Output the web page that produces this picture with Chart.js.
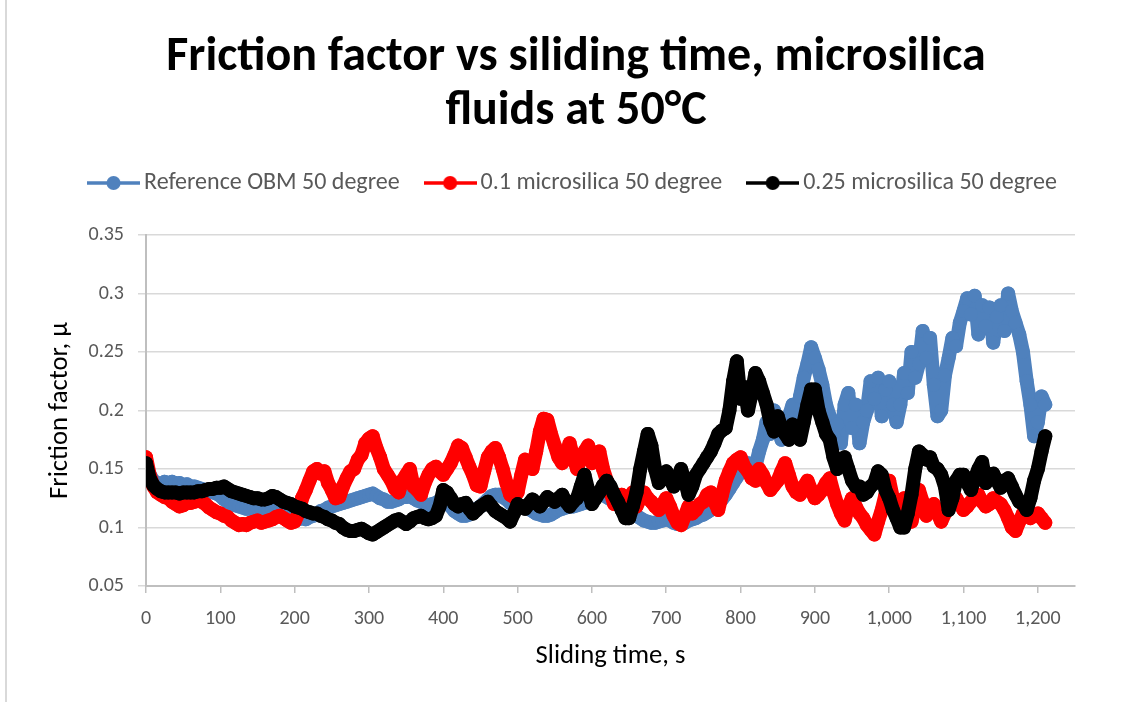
<!DOCTYPE html>
<html>
<head>
<meta charset="utf-8">
<script src="https://cdn.jsdelivr.net/npm/chart.js@4.4.1/dist/chart.umd.min.js"></script>
<style>
  html, body { margin: 0; padding: 0; background: #fff; }
  #wrap { width: 1126px; height: 702px; }
</style>
</head>
<body>
<div id="wrap"><canvas id="chart" width="1126" height="702"></canvas></div>
<script>
// sliding time in seconds, one reading every 5 s (one row = 100 s)
let times = [
  0, 5, 10, 15, 20, 25, 30, 35, 40, 45, 50, 55, 60, 65, 70, 75, 80, 85, 90, 95,
  100, 105, 110, 115, 120, 125, 130, 135, 140, 145, 150, 155, 160, 165, 170, 175, 180, 185, 190, 195,
  200, 205, 210, 215, 220, 225, 230, 235, 240, 245, 250, 255, 260, 265, 270, 275, 280, 285, 290, 295,
  300, 305, 310, 315, 320, 325, 330, 335, 340, 345, 350, 355, 360, 365, 370, 375, 380, 385, 390, 395,
  400, 405, 410, 415, 420, 425, 430, 435, 440, 445, 450, 455, 460, 465, 470, 475, 480, 485, 490, 495,
  500, 505, 510, 515, 520, 525, 530, 535, 540, 545, 550, 555, 560, 565, 570, 575, 580, 585, 590, 595,
  600, 605, 610, 615, 620, 625, 630, 635, 640, 645, 650, 655, 660, 665, 670, 675, 680, 685, 690, 695,
  700, 705, 710, 715, 720, 725, 730, 735, 740, 745, 750, 755, 760, 765, 770, 775, 780, 785, 790, 795,
  800, 805, 810, 815, 820, 825, 830, 835, 840, 845, 850, 855, 860, 865, 870, 875, 880, 885, 890, 895,
  900, 905, 910, 915, 920, 925, 930, 935, 940, 945, 950, 955, 960, 965, 970, 975, 980, 985, 990, 995,
  1000, 1005, 1010, 1015, 1020, 1025, 1030, 1035, 1040, 1045, 1050, 1055, 1060, 1065, 1070, 1075, 1080, 1085, 1090, 1095,
  1100, 1105, 1110, 1115, 1120, 1125, 1130, 1135, 1140, 1145, 1150, 1155, 1160, 1165, 1170, 1175, 1180, 1185, 1190, 1195,
  1200, 1205, 1210
]

// friction factor
let refOBM = [
  0.152, 0.145, 0.140, 0.138, 0.137, 0.139, 0.138, 0.139, 0.137, 0.138, 0.136, 0.137, 0.135, 0.135, 0.134, 0.133, 0.132, 0.131, 0.130, 0.129,
  0.127, 0.124, 0.122, 0.120, 0.119, 0.118, 0.117, 0.116, 0.116, 0.118, 0.117, 0.116, 0.116, 0.115, 0.115, 0.114, 0.114, 0.113, 0.112, 0.110,
  0.109, 0.107, 0.108, 0.107, 0.109, 0.110, 0.112, 0.114, 0.115, 0.117, 0.118, 0.119, 0.120, 0.121, 0.122, 0.123, 0.124, 0.125, 0.126, 0.127,
  0.128, 0.129, 0.127, 0.125, 0.124, 0.122, 0.122, 0.123, 0.124, 0.126, 0.126, 0.127, 0.125, 0.123, 0.122, 0.120, 0.119, 0.120, 0.121, 0.123,
  0.124, 0.121, 0.118, 0.114, 0.112, 0.110, 0.110, 0.111, 0.113, 0.116, 0.118, 0.121, 0.124, 0.127, 0.128, 0.128, 0.126, 0.124, 0.121, 0.119,
  0.118, 0.118, 0.117, 0.116, 0.114, 0.112, 0.111, 0.110, 0.110, 0.111, 0.113, 0.115, 0.116, 0.117, 0.118, 0.118, 0.119, 0.120, 0.121, 0.122,
  0.124, 0.126, 0.128, 0.128, 0.126, 0.124, 0.122, 0.120, 0.118, 0.116, 0.114, 0.112, 0.110, 0.108, 0.106, 0.105, 0.104, 0.104, 0.105, 0.106,
  0.107, 0.106, 0.104, 0.103, 0.103, 0.104, 0.106, 0.107, 0.108, 0.110, 0.111, 0.113, 0.115, 0.118, 0.121, 0.124, 0.128, 0.133, 0.138, 0.143,
  0.148, 0.152, 0.155, 0.150, 0.152, 0.165, 0.175, 0.190, 0.180, 0.200, 0.192, 0.175, 0.185, 0.195, 0.205, 0.190, 0.212, 0.228, 0.240, 0.254,
  0.245, 0.235, 0.222, 0.205, 0.195, 0.178, 0.188, 0.172, 0.205, 0.215, 0.185, 0.205, 0.172, 0.190, 0.200, 0.225, 0.210, 0.228, 0.195, 0.218,
  0.225, 0.205, 0.190, 0.205, 0.232, 0.215, 0.250, 0.228, 0.240, 0.268, 0.245, 0.262, 0.222, 0.195, 0.200, 0.230, 0.245, 0.262, 0.255, 0.275,
  0.285, 0.296, 0.282, 0.298, 0.265, 0.290, 0.272, 0.288, 0.258, 0.280, 0.290, 0.268, 0.300, 0.285, 0.275, 0.265, 0.250, 0.225, 0.205, 0.178,
  0.190, 0.212, 0.205
]
let micro01 = [
  0.160, 0.145, 0.135, 0.130, 0.128, 0.126, 0.125, 0.122, 0.120, 0.118, 0.119, 0.121, 0.121, 0.122, 0.123, 0.122, 0.120, 0.117, 0.115, 0.113,
  0.112, 0.110, 0.109, 0.106, 0.104, 0.102, 0.103, 0.102, 0.104, 0.105, 0.106, 0.104, 0.105, 0.106, 0.107, 0.109, 0.110, 0.108, 0.106, 0.104,
  0.105, 0.112, 0.125, 0.132, 0.140, 0.148, 0.150, 0.146, 0.148, 0.138, 0.132, 0.125, 0.126, 0.135, 0.142, 0.148, 0.150, 0.158, 0.162, 0.172,
  0.176, 0.178, 0.168, 0.160, 0.150, 0.145, 0.140, 0.133, 0.130, 0.140, 0.145, 0.150, 0.135, 0.132, 0.128, 0.138, 0.145, 0.150, 0.152, 0.148,
  0.145, 0.150, 0.155, 0.162, 0.170, 0.168, 0.160, 0.152, 0.145, 0.136, 0.135, 0.148, 0.160, 0.165, 0.168, 0.160, 0.150, 0.138, 0.128, 0.126,
  0.130, 0.145, 0.158, 0.155, 0.150, 0.165, 0.182, 0.193, 0.192, 0.180, 0.170, 0.160, 0.155, 0.162, 0.172, 0.160, 0.150, 0.160, 0.165, 0.170,
  0.155, 0.160, 0.165, 0.150, 0.140, 0.130, 0.120, 0.125, 0.128, 0.120, 0.125, 0.130, 0.118, 0.125, 0.130, 0.125, 0.122, 0.118, 0.115, 0.120,
  0.125, 0.118, 0.110, 0.104, 0.102, 0.110, 0.118, 0.112, 0.115, 0.120, 0.122, 0.128, 0.130, 0.122, 0.115, 0.128, 0.140, 0.148, 0.155, 0.158,
  0.160, 0.152, 0.148, 0.142, 0.140, 0.150, 0.145, 0.138, 0.132, 0.136, 0.140, 0.148, 0.155, 0.145, 0.135, 0.130, 0.128, 0.135, 0.140, 0.132,
  0.125, 0.128, 0.132, 0.138, 0.142, 0.130, 0.120, 0.112, 0.106, 0.118, 0.125, 0.118, 0.112, 0.108, 0.102, 0.098, 0.094, 0.105, 0.115, 0.128,
  0.140, 0.125, 0.112, 0.118, 0.125, 0.115, 0.105, 0.118, 0.132, 0.122, 0.110, 0.115, 0.120, 0.112, 0.105, 0.112, 0.118, 0.122, 0.125, 0.120,
  0.115, 0.118, 0.122, 0.125, 0.128, 0.122, 0.118, 0.120, 0.125, 0.122, 0.120, 0.115, 0.108, 0.100, 0.097, 0.105, 0.112, 0.110, 0.108, 0.110,
  0.112, 0.108, 0.104
]
let micro025 = [
  0.155, 0.142, 0.136, 0.133, 0.131, 0.130, 0.130, 0.130, 0.130, 0.129, 0.130, 0.130, 0.130, 0.130, 0.131, 0.131, 0.132, 0.133, 0.133, 0.134,
  0.134, 0.135, 0.133, 0.131, 0.130, 0.129, 0.128, 0.127, 0.126, 0.125, 0.125, 0.124, 0.124, 0.125, 0.127, 0.126, 0.124, 0.122, 0.121, 0.120,
  0.118, 0.117, 0.116, 0.114, 0.113, 0.112, 0.112, 0.110, 0.109, 0.107, 0.106, 0.104, 0.103, 0.100, 0.098, 0.097, 0.097, 0.098, 0.099, 0.097,
  0.095, 0.094, 0.096, 0.098, 0.100, 0.102, 0.104, 0.106, 0.107, 0.105, 0.103, 0.105, 0.108, 0.109, 0.110, 0.108, 0.107, 0.108, 0.110, 0.118,
  0.132, 0.130, 0.125, 0.120, 0.118, 0.120, 0.121, 0.116, 0.112, 0.115, 0.118, 0.120, 0.122, 0.118, 0.114, 0.112, 0.110, 0.108, 0.105, 0.112,
  0.120, 0.118, 0.116, 0.120, 0.124, 0.121, 0.118, 0.122, 0.126, 0.124, 0.122, 0.125, 0.128, 0.122, 0.118, 0.122, 0.125, 0.135, 0.145, 0.132,
  0.120, 0.125, 0.130, 0.136, 0.140, 0.135, 0.128, 0.122, 0.115, 0.108, 0.108, 0.118, 0.130, 0.150, 0.165, 0.180, 0.170, 0.150, 0.138, 0.142,
  0.148, 0.142, 0.135, 0.142, 0.150, 0.140, 0.128, 0.135, 0.145, 0.150, 0.155, 0.160, 0.165, 0.172, 0.180, 0.183, 0.185, 0.200, 0.225, 0.242,
  0.210, 0.220, 0.200, 0.215, 0.232, 0.225, 0.215, 0.205, 0.190, 0.182, 0.195, 0.185, 0.180, 0.175, 0.188, 0.180, 0.175, 0.190, 0.205, 0.218,
  0.218, 0.200, 0.190, 0.180, 0.175, 0.160, 0.150, 0.155, 0.160, 0.150, 0.140, 0.135, 0.135, 0.128, 0.130, 0.135, 0.138, 0.148, 0.145, 0.132,
  0.125, 0.115, 0.108, 0.100, 0.100, 0.112, 0.128, 0.150, 0.165, 0.162, 0.158, 0.160, 0.152, 0.150, 0.145, 0.135, 0.115, 0.125, 0.140, 0.145,
  0.145, 0.138, 0.132, 0.142, 0.150, 0.156, 0.138, 0.145, 0.146, 0.140, 0.134, 0.140, 0.142, 0.135, 0.128, 0.122, 0.120, 0.115, 0.125, 0.140,
  0.150, 0.165, 0.178
]

let seriesNames = ['Reference OBM 50 degree', '0.1 microsilica 50 degree', '0.25 microsilica 50 degree']
let seriesColors = ['#4f81bd', '#ff0000', '#000000']
let xTicks = [0, 100, 200, 300, 400, 500, 600, 700, 800, 900, 1000, 1100, 1200]
let yTicks = [0.05, 0.1, 0.15, 0.2, 0.25, 0.3, 0.35]

const family = 'Carlito, Calibri, Lato, sans-serif'

// pair every reading with its time
const toPoints = (ys) => times.map((t, i) => ({x: t, y: ys[i]}))

// legend symbol like excel: short line with a dot in the middle
const legendIcon = (color) => {
  const c = document.createElement('canvas')
  c.width = 53
  c.height = 16
  const g = c.getContext('2d')
  g.strokeStyle = color
  g.lineWidth = 3.5
  g.beginPath(); g.moveTo(0, 8); g.lineTo(53, 8); g.stroke()
  g.fillStyle = color
  g.beginPath(); g.arc(26.5, 8, 7, 0, Math.PI * 2); g.fill()
  return c
}

// white background and the thin grey chart border on the left
const frame = {
  id: 'frame',
  beforeDraw(chart) {
    const g = chart.ctx
    g.save()
    g.fillStyle = '#fff'
    g.fillRect(0, 0, chart.width, chart.height)
    g.strokeStyle = '#d9d9d9'
    g.lineWidth = 2
    g.beginPath(); g.moveTo(6, 0); g.lineTo(6, chart.height); g.stroke()
    g.restore()
  }
}

// the real curves have a marker every second, so the line is drawn as wide
// as the markers to give the same solid band
const allData = [refOBM, micro01, micro025]
const datasets = allData.map((ys, i) => ({
  label: seriesNames[i],
  data: toPoints(ys),
  showLine: true,
  borderColor: seriesColors[i],
  backgroundColor: seriesColors[i],
  pointBackgroundColor: seriesColors[i],
  borderWidth: 14,
  borderJoinStyle: 'round',
  borderCapStyle: 'round',
  pointRadius: 7,
  pointHoverRadius: 7,
  pointBorderWidth: 0,
  order: 3 - i   // black drawn on top
}))

new Chart(document.getElementById('chart'), {
  type: 'scatter',
  data: { datasets: datasets },
  plugins: [frame],
  options: {
    responsive: false,
    animation: false,
    events: [],
    layout: { padding: { left: 26, right: 0, top: 0, bottom: 0 } },
    plugins: {
      tooltip: { enabled: false },
      title: {
        display: true,
        text: ['Friction factor vs siliding time, microsilica', 'fluids at 50°C'],
        color: '#000',
        font: { family: family, size: 48, weight: 'bold', lineHeight: '54px' },
        padding: { top: 31, bottom: 0 }
      },
      legend: {
        position: 'top',
        labels: {
          usePointStyle: true,
          pointStyleWidth: 37,
          padding: 32,
          color: '#595959',
          font: { family: family, size: 24 },
          generateLabels: (chart) => chart.data.datasets.map((ds, i) => ({
            text: ds.label,
            fillStyle: ds.borderColor,
            strokeStyle: ds.borderColor,
            lineWidth: 0,
            pointStyle: legendIcon(ds.borderColor),
            fontColor: '#595959',
            hidden: false,
            datasetIndex: i
          }))
        }
      }
    },
    scales: {
      x: {
        type: 'linear',
        position: 'bottom',
        min: 0,
        max: 1250,
        afterBuildTicks: (s) => { s.ticks = xTicks.map(v => ({value: v})) },
        afterFit: (s) => { s.height = 116 },
        ticks: {
          autoSkip: false,
          maxRotation: 0,
          padding: 14,
          color: '#595959',
          font: { family: family, size: 20 },
          callback: (v) => v.toLocaleString('en-US')
        },
        grid: { drawOnChartArea: false, drawTicks: true, tickLength: 7, color: '#bfbfbf', lineWidth: 1.5 },
        border: { color: '#bfbfbf', width: 2 },
        title: {
          display: true,
          text: 'Sliding time, s',
          color: '#000',
          font: { family: family, size: 26.7 },
          padding: { top: 4, bottom: 30 }
        }
      },
      y: {
        type: 'linear',
        min: 0.05,
        max: 0.35,
        afterBuildTicks: (s) => { s.ticks = yTicks.map(v => ({value: v})) },
        afterFit: (s) => { s.width = 120 },
        ticks: {
          padding: 14,
          color: '#595959',
          font: { family: family, size: 20 },
          callback: (v) => String(+v.toFixed(2))
        },
        grid: { color: '#d9d9d9', lineWidth: 1.5, tickLength: 8 },
        border: { color: '#bfbfbf', width: 2 },
        title: {
          display: true,
          text: 'Friction factor, μ',
          color: '#000',
          font: { family: family, size: 26.7 },
          padding: { top: 18, bottom: 0 }
        }
      },
      // empty boxes that only hold space so the plot area lands where excel put it
      xTop: {
        type: 'linear',
        position: 'top',
        ticks: { display: false },
        grid: { display: false, drawTicks: false },
        border: { display: false },
        afterFit: (s) => { s.height = 30 }
      },
      yR: {
        type: 'linear',
        position: 'right',
        ticks: { display: false },
        grid: { display: false, drawTicks: false },
        border: { display: false },
        afterFit: (s) => { s.width = 51 }
      }
    }
  }
})
</script>
</body>
</html>
